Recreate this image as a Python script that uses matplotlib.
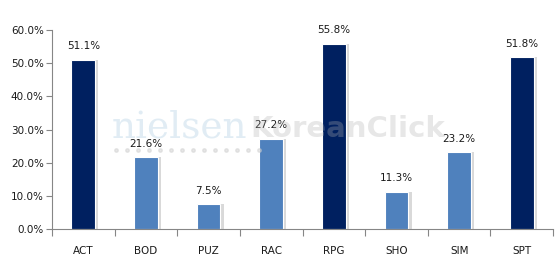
import matplotlib.pyplot as plt
import numpy as np

genres = ["ACT", "BOD", "PUZ", "RAC", "RPG", "SHO", "SIM", "SPT"]
shares = [51.1, 21.6, 7.5, 27.2, 55.8, 11.3, 23.2, 51.8]
highlight = [True, False, False, False, True, False, False, True]
y_ticks = [0, 10, 20, 30, 40, 50, 60]

dark = "#002060"
light = "#4F81BD"
axis_gray = "#868686"
text_col = "#1a1a1a"

plt.rcParams['font.family'] = ['DejaVu Sans']

fig = plt.figure(figsize=(5.58, 2.76), dpi=100)
ax = fig.add_axes([0.0932, 0.170, 0.898, 0.721])

x = np.arange(len(genres))
colors = [dark if h else light for h in highlight]

# soft shadow behind bars
ax.bar(x + 0.03, shares, width=0.42, color="#d9d9d9", zorder=1)
ax.bar(x, shares, width=0.38, color=colors, edgecolor="white", linewidth=0.8, zorder=2)

for xi, v in zip(x, shares):
    ax.text(xi, v + 2.6, f"{v:.1f}%", ha="center", va="bottom", fontsize=7.5, color=text_col, zorder=3)

ax.set_xlim(-0.5, len(genres) - 0.5)
ax.set_ylim(0, 60)
ax.set_yticks(y_ticks)
ax.set_yticklabels([f"{t:.1f}%" for t in y_ticks], fontsize=7.5, color=text_col)
ax.set_xticks(x)
ax.set_xticklabels(genres, fontsize=7.5, color=text_col)
ax.tick_params(axis="x", length=0, pad=12)
ax.set_xticks(np.arange(-0.5, len(genres)), minor=True)
ax.tick_params(axis="x", which="minor", length=5, color=axis_gray, width=0.8)
ax.tick_params(axis="y", length=4, color=axis_gray, width=0.8, pad=2)

for s in ["top", "right"]:
    ax.spines[s].set_visible(False)
for s in ["left", "bottom"]:
    ax.spines[s].set_color(axis_gray)
    ax.spines[s].set_linewidth(0.8)

# watermark
fig.text(112 / 558, 1 - 137 / 276, "nielsen", fontsize=27, family="DejaVu Serif",
         color="#9cc3dc", alpha=0.3, ha="left", va="baseline", zorder=0)
fig.text(250 / 558, 1 - 137 / 276, "KoreanClick", fontsize=21, fontweight="bold",
         color="#b0b0b0", alpha=0.3, ha="left", va="baseline", zorder=0)
dot_x = np.arange(116, 262, 11) / 558
fig.lines.append(plt.Line2D(dot_x, [1 - 150 / 276] * len(dot_x), transform=fig.transFigure,
                            linestyle="none", marker="o", markersize=2.5, color="#d0d0d0", alpha=0.5))

fig.savefig("out.png", dpi=100)
